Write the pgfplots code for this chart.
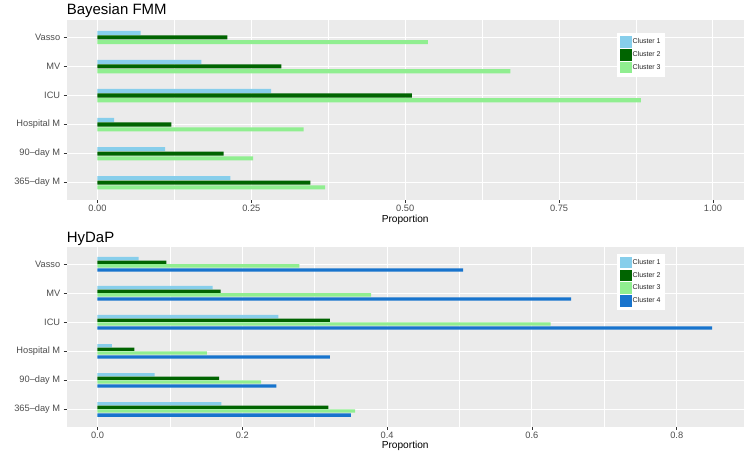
\documentclass[border=0pt]{standalone}
\usepackage{pgfplots}
\pgfplotsset{compat=1.18}
\usepackage{pgfplotstable}
\usepackage{fontspec}
\setmainfont{Liberation Sans}
\definecolor{cA}{HTML}{87CEEB}
\definecolor{cB}{HTML}{006400}
\definecolor{cC}{HTML}{90EE90}
\definecolor{cD}{HTML}{1874CD}
\definecolor{panel}{HTML}{EBEBEB}
\definecolor{ticklab}{HTML}{4D4D4D}
\definecolor{tickc}{HTML}{333333}

\pgfplotstableread{
pos c1 c2 c3
6 0.070 0.211 0.537
5 0.169 0.299 0.671
4 0.282 0.511 0.883
3 0.027 0.120 0.335
2 0.110 0.205 0.253
1 0.216 0.346 0.370
}\fmm

\pgfplotstableread{
pos c1 c2 c3 c4
6 0.057 0.095 0.279 0.505
5 0.159 0.170 0.378 0.654
4 0.250 0.321 0.626 0.849
3 0.020 0.051 0.151 0.321
2 0.079 0.168 0.226 0.247
1 0.171 0.319 0.356 0.350
}\hydap

\pgfplotsset{
  ggstyle/.style={
    scale only axis, width=677bp, height=180bp,
    axis background/.style={fill=panel},
    axis line style={draw=none},
    xbar,
    ymin=0.4, ymax=6.6,
    ytick={1,2,3,4,5,6},
    yticklabels={365--day M, 90--day M, Hospital M, ICU, MV, Vasso},
    xmajorgrids, ymajorgrids, xminorgrids,
    minor x tick num=1,
    major grid style={white, line width=1.07bp},
    minor grid style={white, line width=0.53bp},
    tick align=outside,
    major tick length=3bp,
    minor tick length=0bp,
    xtick pos=lower, ytick pos=left,
    tick style={tickc, line width=0.8bp},
    tick label style={font=\fontsize{9.3}{10}\selectfont, text=ticklab},
    xticklabel style={yshift=1.5bp},
    /pgf/number format/assume math mode=true,
    xlabel={Proportion},
    xlabel style={font=\fontsize{10.2}{11}\selectfont, text=black, yshift=3.5bp},
    legend cell align=left,
    legend image code/.code={\fill[##1] (0bp,-5.7bp) rectangle (11.7bp,5.7bp);},
    legend style={draw=none, fill=white, inner xsep=3.5bp, inner ysep=3.5bp,
      row sep=1.3bp, nodes={inner sep=0.6bp, font=\fontsize{7}{7}\selectfont, text=black!85}},
  }
}

\begin{document}
\begin{tikzpicture}
\begin{axis}[ggstyle, at={(66.7bp,-20bp)}, anchor=north west,
  xmin=-0.05, xmax=1.05,
  xtick={0,0.25,0.5,0.75,1},
  xticklabels={0.00,0.25,0.50,0.75,1.00},
  legend style={at={(0.8124,0.9294)}, anchor=north west}]
\addplot[fill=cA, draw=none, bar width=0.14, bar shift=0pt] table[x=c1, y expr=\thisrow{pos}+0.155] {\fmm};
\addplot[fill=cB, draw=none, bar width=0.14, bar shift=0pt] table[x=c2, y expr=\thisrow{pos}] {\fmm};
\addplot[fill=cC, draw=none, bar width=0.14, bar shift=0pt] table[x=c3, y expr=\thisrow{pos}-0.165] {\fmm};
\legend{Cluster 1, Cluster 2, Cluster 3}
\end{axis}
\node[anchor=base west, font=\fontsize{15}{18}\selectfont, inner sep=0pt] at (66.7bp,-14.7bp) {Bayesian FMM};

\begin{axis}[ggstyle, at={(66.7bp,-246.7bp)}, anchor=north west,
  xmin=-0.0425, xmax=0.8925,
  xtick={0,0.2,0.4,0.6,0.8},
  xticklabels={0.0,0.2,0.4,0.6,0.8},
  legend style={at={(0.8124,0.963)}, anchor=north west}]
\addplot[fill=cA, draw=none, bar width=0.115, bar shift=0pt] table[x=c1, y expr=\thisrow{pos}+0.19] {\hydap};
\addplot[fill=cB, draw=none, bar width=0.115, bar shift=0pt] table[x=c2, y expr=\thisrow{pos}+0.065] {\hydap};
\addplot[fill=cC, draw=none, bar width=0.115, bar shift=0pt] table[x=c3, y expr=\thisrow{pos}-0.06] {\hydap};
\addplot[fill=cD, draw=none, bar width=0.115, bar shift=0pt] table[x=c4, y expr=\thisrow{pos}-0.2] {\hydap};
\legend{Cluster 1, Cluster 2, Cluster 3, Cluster 4}
\end{axis}
\node[anchor=base west, font=\fontsize{15}{18}\selectfont, inner sep=0pt] at (66.7bp,-242bp) {HyDaP};

\pgfresetboundingbox
\path[use as bounding box] (0,0) rectangle (747bp,-454bp);
\end{tikzpicture}
\end{document}
